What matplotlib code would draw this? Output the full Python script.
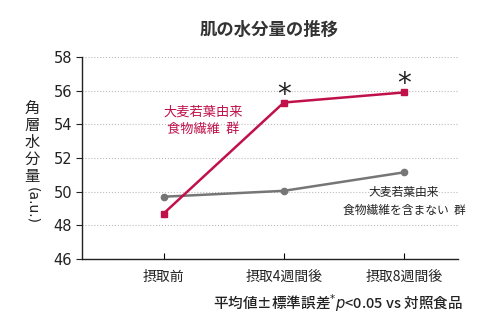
import matplotlib
matplotlib.use('Agg')
import matplotlib.pyplot as plt

plt.rcParams['font.family'] = ['Noto Sans CJK JP', 'DejaVu Sans']

# --- data ---
categories = ['摂取前', '摂取4週間後', '摂取8週間後']
barley_fiber = [48.7, 55.3, 55.9]      # 大麦若葉由来 食物繊維 群
control = [49.7, 50.05, 51.15]         # 食物繊維を含まない 群
significant = [False, True, True]
y_ticks = [46, 48, 50, 52, 54, 56, 58]

red = '#c0114a'
gray = '#767676'

fig = plt.figure(figsize=(4.9, 3.32), dpi=100)
ax = fig.add_axes([0.167, 0.22, 0.768, 0.608])

x = list(range(len(categories)))
ax.plot(x, control, color=gray, lw=1.8, marker='o', ms=4.5, zorder=3)
ax.plot(x, barley_fiber, color=red, lw=1.8, marker='s', ms=4.5, zorder=4)

# significance marks
for xi, yi, sig in zip(x, barley_fiber, significant):
    if sig:
        ax.annotate('*', (xi, yi), xytext=(0, 0), textcoords='offset points',
                    ha='center', va='baseline', fontsize=20, color='#222222',
                    family='DejaVu Sans')

ax.set_xlim(-0.68, 2.45)
ax.set_ylim(46, 58)
ax.set_yticks(y_ticks)
ax.set_xticks(x)
ax.set_xticklabels(categories, fontsize=10, color='#222222')
ax.tick_params(axis='y', direction='out', length=4, labelsize=10.5,
               colors='#222222', pad=3)
ax.tick_params(axis='x', direction='in', length=4, pad=8)
for lab in ax.get_yticklabels():
    lab.set_family('DejaVu Sans')

ax.grid(axis='y', linestyle=':', color='#bbbbbb', lw=0.8)
ax.set_axisbelow(True)
for s in ['top', 'right']:
    ax.spines[s].set_visible(False)
for s in ['left', 'bottom']:
    ax.spines[s].set_color('#222222')
    ax.spines[s].set_linewidth(1.0)

# group labels
ax.text(0.33, 54.2, '大麦若葉由来\n食物繊維  群', color=red, fontsize=9.5,
        ha='center', va='center', linespacing=1.4)
ax.text(2.0, 49.4, '大麦若葉由来\n食物繊維を含まない  群', color='#222222',
        fontsize=8.5, ha='center', va='center', linespacing=1.5)

# title
fig.text(0.55, 0.91, '肌の水分量の推移', ha='center', va='center',
         fontsize=12.5, fontweight='bold', color='#333333')

# y label: upright CJK stacked, then rotated (a.u.)
fig.text(0.066, 0.699, '角\n層\n水\n分\n量', ha='center', va='top',
         fontsize=11, color='#222222', linespacing=1.0)
fig.text(0.066, 0.438, '(a.u.)', ha='center', va='top', rotation=-90,
         fontsize=10, color='#222222', family='DejaVu Sans')

# footnote
fig.text(0.944, 0.087, '平均値±標準誤差$^{*}\\mathit{p}$<0.05 vs 対照食品',
         ha='right', va='center', fontsize=10.5, fontweight='medium',
         color='#222222')

fig.savefig('out.png', dpi=100)
